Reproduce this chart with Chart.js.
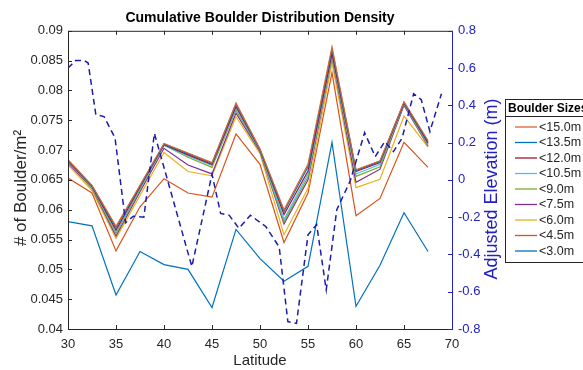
<!DOCTYPE html>
<html lang="en">
<head>
    <meta charset="UTF-8">
    <title>Cumulative Boulder Distribution Density</title>
    <script src="https://cdn.jsdelivr.net/npm/chart.js"></script>
    <style>
        body {
            margin: 0;
            background: #ffffff;
        }
        #wrap {
            width: 583px;
            height: 370px;
        }
    </style>
</head>
<body>
    <div id="wrap"><canvas id="chart" width="583" height="370"></canvas></div>

    <script>
        // latitude of each boulder count sample
        const latitudes = [30, 32.5, 35, 37.5, 40, 42.5, 45, 47.5, 50, 52.5, 55, 57.5, 60, 62.5, 65, 67.5];

        const sizeLabels = ['<15.0m', '<13.5m', '<12.0m', '<10.5m', '<9.0m', '<7.5m', '<6.0m', '<4.5m', '<3.0m'];
        const sizeColors = ['#DC6530', '#0072BD', '#A2142F', '#4DBEEE', '#77AC30', '#7E2F8E', '#EDB120', '#D95319', '#0072BD'];

        // cumulative densities, one array per size class
        const below15 = [0.0684, 0.0641, 0.0572, 0.0641, 0.0711, 0.0695, 0.0679, 0.0779, 0.0702, 0.0600, 0.0676, 0.0873, 0.0667, 0.0682, 0.0781, 0.0716];
        const below13_5 = [0.0683, 0.0640, 0.0570, 0.0640, 0.0710, 0.0694, 0.0678, 0.0777, 0.0701, 0.0597, 0.0672, 0.0869, 0.0666, 0.0681, 0.0780, 0.0714];
        const below12 = [0.0682, 0.0639, 0.0566, 0.0638, 0.0709, 0.0692, 0.0676, 0.0773, 0.0700, 0.0592, 0.0665, 0.0862, 0.0664, 0.0679, 0.0779, 0.0712];
        const below10_5 = [0.0681, 0.0638, 0.0563, 0.0636, 0.0708, 0.0690, 0.0674, 0.0770, 0.0699, 0.0584, 0.0660, 0.0859, 0.0660, 0.0676, 0.0778, 0.0710];
        const below9 = [0.0680, 0.0637, 0.0560, 0.0634, 0.0708, 0.0688, 0.0671, 0.0767, 0.0698, 0.0580, 0.0655, 0.0857, 0.0656, 0.0672, 0.0777, 0.0708];
        const below7_5 = [0.0678, 0.0636, 0.0556, 0.0630, 0.0703, 0.0675, 0.0660, 0.0762, 0.0697, 0.0576, 0.0650, 0.0856, 0.0646, 0.0668, 0.0775, 0.0707];
        const below6 = [0.0675, 0.0632, 0.0552, 0.0624, 0.0696, 0.0664, 0.0657, 0.0756, 0.0694, 0.0558, 0.0636, 0.0846, 0.0637, 0.0651, 0.0757, 0.0705];
        const below4_5 = [0.0653, 0.0628, 0.0531, 0.0605, 0.0652, 0.0628, 0.0621, 0.0727, 0.0676, 0.0545, 0.0628, 0.0830, 0.0590, 0.0619, 0.0713, 0.0671];
        const below3 = [0.0580, 0.0573, 0.0457, 0.0530, 0.0508, 0.0500, 0.0436, 0.0567, 0.0518, 0.0480, 0.0505, 0.0713, 0.0438, 0.0507, 0.0595, 0.0530];
        const sizeSeries = [below15, below13_5, below12, below10_5, below9, below7_5, below6, below4_5, below3];

        // adjusted elevation profile (right axis)
        const elevLat = [30.0, 30.8, 31.7, 32.1, 32.9, 33.75, 34.9, 36.0, 36.8, 37.9, 39.0, 42.9, 45.0, 45.9, 46.8, 47.8, 49.0, 50.6, 52.0, 52.9, 53.8, 55.0, 55.9, 56.9, 58.0, 59.4, 60.9, 62.0, 63.0, 63.9, 64.8, 66.0, 66.8, 67.7, 68.9];
        const elevation = [0.60, 0.64, 0.64, 0.627, 0.35, 0.34, 0.225, -0.23, -0.195, -0.20, 0.25, -0.465, 0.03, -0.18, -0.19, -0.26, -0.19, -0.25, -0.36, -0.76, -0.77, -0.295, -0.24, -0.59, -0.16, -0.005, 0.254, 0.125, 0.206, 0.152, 0.224, 0.462, 0.43, 0.26, 0.462];

        // ticks
        const xTicks = [30, 35, 40, 45, 50, 55, 60, 65, 70];
        const yTicks = [0.04, 0.045, 0.05, 0.055, 0.06, 0.065, 0.07, 0.075, 0.08, 0.085, 0.09];
        const yTickLabels = ['0.04', '0.045', '0.05', '0.055', '0.06', '0.065', '0.07', '0.075', '0.08', '0.085', '0.09'];
        const y2Ticks = [-0.8, -0.6, -0.4, -0.2, 0, 0.2, 0.4, 0.6, 0.8];
        const y2TickLabels = ['-0.8', '-0.6', '-0.4', '-0.2', '0', '0.2', '0.4', '0.6', '0.8'];

        const FONT = "'Liberation Sans', Arial, Helvetica, sans-serif";
        const INK = '#262626';
        const BLUE_AXIS = '#2222c4';
        const BLUE_LINE = '#1c1cae';

        const datasets = sizeSeries.map((vals, i) => ({
            label: sizeLabels[i],
            data: vals.map((v, j) => ({ x: latitudes[j], y: v })),
            borderColor: sizeColors[i],
            backgroundColor: sizeColors[i],
            borderWidth: 1.2,
            pointRadius: 0,
            tension: 0,
            yAxisID: 'y',
            order: i
        }));
        datasets.push({
            label: 'Adjusted Elevation',
            data: elevation.map((v, j) => ({ x: elevLat[j], y: v })),
            borderColor: BLUE_LINE,
            borderWidth: 1.5,
            borderDash: [6, 4],
            pointRadius: 0,
            tension: 0,
            yAxisID: 'y2',
            order: -1
        });

        function setTicks(values) {
            return scale => { scale.ticks = values.map(v => ({ value: v })); };
        }

        // box, inward ticks, axis side titles and legend like the original figure
        const figurePlugin = {
            id: 'figure',
            afterDraw(chart) {
                const ctx = chart.ctx;
                const a = chart.chartArea;
                const xs = chart.scales.x, ys = chart.scales.y, y2 = chart.scales.y2;
                const tl = 4;
                ctx.save();
                ctx.lineWidth = 1;
                ctx.strokeStyle = INK;
                ctx.beginPath();
                ctx.moveTo(a.right, a.top + 0.5);
                ctx.lineTo(a.left + 0.5, a.top + 0.5);
                ctx.lineTo(a.left + 0.5, a.bottom + 0.5);
                ctx.lineTo(a.right, a.bottom + 0.5);
                xTicks.forEach(v => {
                    const px = Math.round(xs.getPixelForValue(v)) + 0.5;
                    ctx.moveTo(px, a.bottom);
                    ctx.lineTo(px, a.bottom - tl);
                    ctx.moveTo(px, a.top);
                    ctx.lineTo(px, a.top + tl);
                });
                yTicks.forEach(v => {
                    const py = Math.round(ys.getPixelForValue(v)) + 0.5;
                    ctx.moveTo(a.left, py);
                    ctx.lineTo(a.left + tl, py);
                });
                ctx.stroke();

                ctx.strokeStyle = BLUE_AXIS;
                ctx.beginPath();
                ctx.moveTo(a.right + 0.5, a.top);
                ctx.lineTo(a.right + 0.5, a.bottom + 1);
                y2Ticks.forEach(v => {
                    const py = Math.round(y2.getPixelForValue(v)) + 0.5;
                    ctx.moveTo(a.right, py);
                    ctx.lineTo(a.right - tl, py);
                });
                ctx.stroke();

                ctx.textAlign = 'center';
                ctx.textBaseline = 'middle';

                // left axis title
                ctx.save();
                ctx.fillStyle = INK;
                ctx.font = '17px ' + FONT;
                ctx.translate(21, 188);
                ctx.rotate(-Math.PI / 2);
                ctx.fillText('# of Boulder/m²', 0, 0);
                ctx.restore();

                // right axis title
                ctx.fillStyle = BLUE_AXIS;
                ctx.font = '18px ' + FONT;
                ctx.translate(492, 189);
                ctx.rotate(-Math.PI / 2);
                ctx.fillText('Adjusted Elevation (m)', 0, 0);
                ctx.restore();

                // legend
                ctx.save();
                const bx = 505.5, by = 99.5, bw = 90, bh = 163;
                ctx.fillStyle = '#ffffff';
                ctx.fillRect(bx, by, bw, bh);
                ctx.strokeStyle = INK;
                ctx.lineWidth = 1;
                ctx.strokeRect(bx, by, bw, bh);
                ctx.beginPath();
                ctx.moveTo(bx, by + 17);
                ctx.lineTo(bx + bw, by + 17);
                ctx.stroke();
                ctx.fillStyle = '#000000';
                ctx.font = 'bold 12px ' + FONT;
                ctx.textAlign = 'left';
                ctx.textBaseline = 'middle';
                ctx.fillText('Boulder Sizes', 508, by + 9);
                ctx.font = '12.5px ' + FONT;
                chart.data.datasets.slice(0, sizeLabels.length).forEach((ds, i) => {
                    const ly = 127 + i * 15.5;
                    ctx.strokeStyle = ds.borderColor;
                    ctx.lineWidth = 1.3;
                    ctx.beginPath();
                    ctx.moveTo(515, ly);
                    ctx.lineTo(537, ly);
                    ctx.stroke();
                    ctx.fillStyle = INK;
                    ctx.fillText(ds.label, 539, ly + 0.5);
                });
                ctx.restore();
            }
        };

        new Chart(document.getElementById('chart').getContext('2d'), {
            type: 'line',
            data: { datasets: datasets },
            options: {
                responsive: false,
                animation: false,
                layout: { padding: { left: 0, right: 91, top: 0, bottom: 0 } },
                plugins: {
                    legend: { display: false },
                    tooltip: { enabled: false },
                    title: {
                        display: true,
                        text: 'Cumulative Boulder Distribution Density',
                        fullSize: false,
                        color: '#000000',
                        font: { family: FONT, size: 14, weight: 'bold' },
                        padding: { top: 10, bottom: 4 }
                    }
                },
                scales: {
                    x: {
                        type: 'linear',
                        min: 30,
                        max: 70,
                        afterBuildTicks: setTicks(xTicks),
                        afterFit: s => { s.height = 41; },
                        grid: { display: false, drawTicks: false },
                        border: { display: false },
                        ticks: { color: INK, font: { family: FONT, size: 13 }, padding: 8, maxRotation: 0 },
                        title: { display: true, text: 'Latitude', color: INK, font: { family: FONT, size: 15 }, padding: { top: 0, bottom: 0 } }
                    },
                    y: {
                        position: 'left',
                        min: 0.04,
                        max: 0.09,
                        afterBuildTicks: setTicks(yTicks),
                        afterFit: s => { s.width = 68; },
                        grid: { display: false, drawTicks: false },
                        border: { display: false },
                        ticks: {
                            color: INK,
                            font: { family: FONT, size: 13 },
                            padding: 5,
                            callback: (v, i) => yTickLabels[i]
                        }
                    },
                    y2: {
                        position: 'right',
                        min: -0.8,
                        max: 0.8,
                        afterBuildTicks: setTicks(y2Ticks),
                        afterFit: s => { s.width = 40; },
                        grid: { display: false, drawTicks: false },
                        border: { display: false },
                        ticks: {
                            color: BLUE_AXIS,
                            font: { family: FONT, size: 13 },
                            padding: 6,
                            callback: (v, i) => y2TickLabels[i]
                        }
                    }
                }
            },
            plugins: [figurePlugin]
        });
    </script>
</body>
</html>
